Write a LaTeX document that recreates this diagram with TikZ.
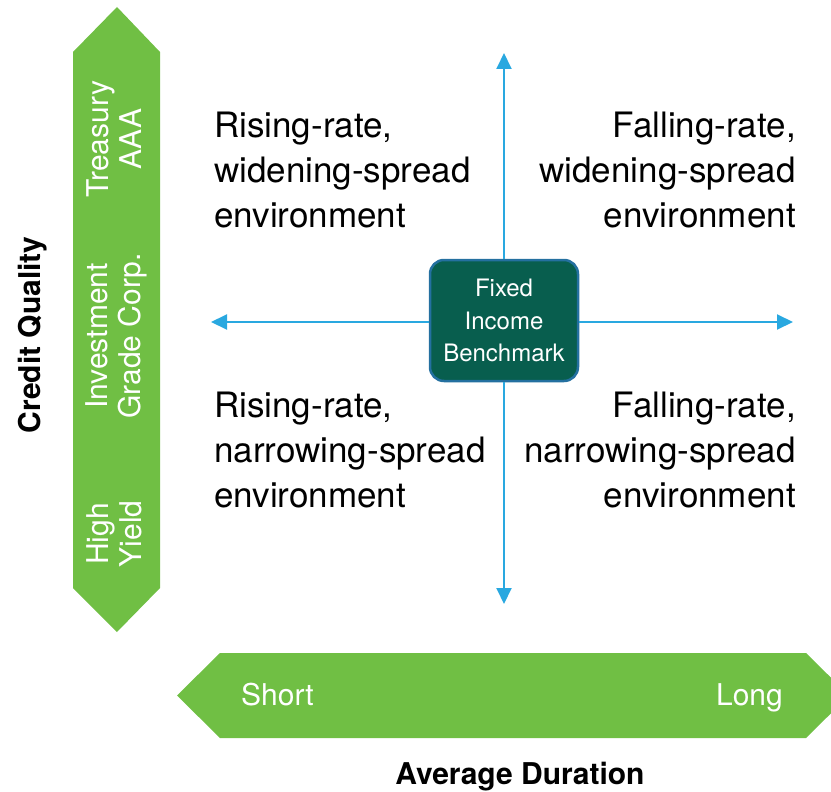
\documentclass[tikz,border=0pt]{standalone}
\usepackage{fontspec}
\setmainfont{TeX Gyre Heros}
\usepackage{tikz}
\usetikzlibrary{arrows.meta}
\usetikzlibrary{positioning}

\definecolor{barGreen}{RGB}{112,191,68}
\definecolor{benchGreen}{RGB}{8,94,78}
\definecolor{benchBlue}{RGB}{36,112,160}
\definecolor{axisBlue}{RGB}{41,168,224}

\begin{document}
\begin{tikzpicture}[x=1pt,y=-1pt,
	quad/.style={font=\fontsize{35}{45}\selectfont, inner sep=0pt},
	bartext/.style={font=\fontsize{30}{33}\selectfont, text=white, inner sep=0pt, align=center},
	axistitle/.style={font=\fontsize{30}{30}\selectfont\bfseries, inner sep=0pt},
	axisarrow/.style={draw=axisBlue, line width=2pt, -{Triangle[length=16pt,width=15pt]}},
	benchbox/.style={rounded corners=14pt, fill=benchGreen, draw=benchBlue, line width=2.5pt,
		minimum width=148pt, minimum height=121pt, align=center, text=white,
		font=\fontsize{24}{32.5}\selectfont}
	]

	\useasboundingbox (0,0) rectangle (831,792);

	% green bars
	\fill[barGreen] (73,52) -- (117,7) -- (160,52) -- (160,588) -- (117,632) -- (73,588) -- cycle;
	\fill[barGreen] (177,695.5) -- (220,653) -- (806,653) -- (849,695.5) -- (806,738) -- (220,738) -- cycle;

	\node[bartext, rotate=90] (treasury) at (114,139) {Treasury\\AAA};
	\node[bartext, rotate=90] (invgrade) at (116,336) {Investment\\Grade Corp.};
	\node[bartext, rotate=90] (highyield) at (114,534) {High\\Yield};

	\node[font=\fontsize{30}{30}\selectfont, text=white, inner sep=0pt, anchor=base west] (short) at (241,705) {Short};
	\node[font=\fontsize{30}{30}\selectfont, text=white, inner sep=0pt, anchor=base east] (long) at (783,705) {Long};

	\node[axistitle, rotate=90] (credit) at (33,335) {Credit Quality};
	\node[axistitle] (duration) at (520,777) {Average Duration};

	% benchmark and axes
	\node[benchbox] (bench) at (504,320.5) {Fixed\\Income\\Benchmark};

	\coordinate (up) at (504,53);
	\coordinate (down) at (504,604);
	\coordinate (lt) at (211,322);
	\coordinate (rt) at (793,322);

	\draw[axisarrow] (bench) -- (up);
	\draw[axisarrow] (bench) -- (down);
	\draw[axisarrow] (bench.west |- lt) -- (lt);
	\draw[axisarrow] (bench.east |- rt) -- (rt);

	% quadrants
	\node[quad, align=left, anchor=north west] (risewide) at (214,112) {Rising-rate,\\widening-spread\\environment};
	\node[quad, align=right, anchor=north east] (fallwide) at (796,112) {Falling-rate,\\widening-spread\\environment};
	\node[quad, align=left, anchor=north west] (risenarrow) at (214,392) {Rising-rate,\\narrowing-spread\\environment};
	\node[quad, align=right, anchor=north east] (fallnarrow) at (796,392) {Falling-rate,\\narrowing-spread\\environment};

\end{tikzpicture}
\end{document}
